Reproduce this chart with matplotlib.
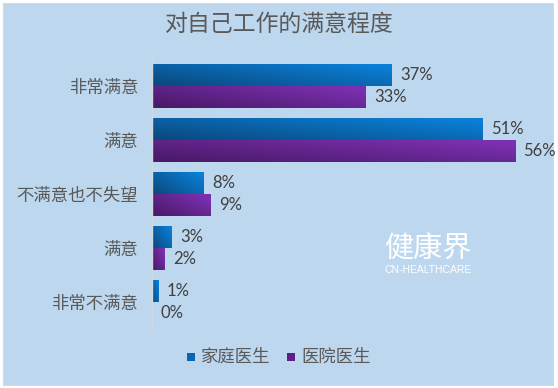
import numpy as np
import matplotlib
matplotlib.use("Agg")
import matplotlib.pyplot as plt
from matplotlib.patches import Rectangle
from matplotlib.colors import to_rgb

plt.rcParams['font.family'] = ['Noto Sans CJK SC', 'DejaVu Sans']

title = "对自己工作的满意程度"
categories = ["非常满意", "满意", "不满意也不失望", "满意", "非常不满意"]
series_names = ["家庭医生", "医院医生"]
family_doctor = [37, 51, 8, 3, 1]
hospital_doctor = [33, 56, 9, 2, 0]

blue_dark, blue_light = "#0a4a80", "#0a7fd6"
purple_dark, purple_light = "#4a1a68", "#7c30b2"
bg = "#BDD7EE"

fig = plt.figure(figsize=(5.58, 3.88), dpi=100)
fig.patch.set_facecolor("white")
fig.patches.append(Rectangle((3 / 558, 3 / 388), 550 / 558, 382 / 388,
                             transform=fig.transFigure, facecolor=bg,
                             edgecolor="#d9d9d9", lw=0.8, zorder=-5))

ax = fig.add_axes([152 / 558, 1 - 329 / 388, (541 - 152) / 558, (329 - 59) / 388])
ax.set_facecolor("none")
ax.set_zorder(2)

y = np.arange(len(categories))
h = 0.41
b1 = ax.barh(y - h / 2, family_doctor, height=h, color="none", zorder=2)
b2 = ax.barh(y + h / 2, hospital_doctor, height=h, color="none", zorder=2)

def gradient_fill(bars, dark, light):
    d = np.array(to_rgb(dark))
    l = np.array(to_rgb(light))
    for bar in bars:
        x0, y0 = bar.get_x(), bar.get_y()
        w, hh = bar.get_width(), bar.get_height()
        if w <= 0:
            continue
        n, m = 40, 200
        u = np.linspace(0, 1, m)[None, :]
        r = np.linspace(0, 1, n)[:, None]
        t = np.clip(0.65 * u + 0.5 * (1 - r) - 0.05, 0, 1)
        img = d[None, None, :] + t[..., None] * (l - d)[None, None, :]
        im = ax.imshow(img, extent=(x0, x0 + w, y0 + hh, y0), origin="upper",
                       aspect="auto", zorder=2, interpolation="bilinear")
        im.set_clip_path(bar)

gradient_fill(b1, blue_dark, blue_light)
gradient_fill(b2, purple_dark, purple_light)

ax.set_xlim(0, 60)
ax.set_ylim(len(categories) - 0.5, -0.5)

for bars, vals in ((b1, family_doctor), (b2, hospital_doctor)):
    for bar, v in zip(bars, vals):
        ax.text(bar.get_width() + 1.3, bar.get_y() + bar.get_height() / 2, f"{v}%",
                va="center", ha="left", fontsize=12, color="#404040",
                family=["Lato", "DejaVu Sans"])

ax.set_yticks(y)
ax.set_yticklabels(categories, fontsize=12.5, color="#595959")
ax.tick_params(axis="y", length=0, pad=10)
ax.set_xticks([])
for s in ("top", "right", "bottom"):
    ax.spines[s].set_visible(False)
ax.spines["left"].set_color("#d0d8e0")
ax.spines["left"].set_linewidth(1)

fig.text(0.5, 1 - 24 / 388, title, ha="center", va="center", fontsize=16.5, color="#595959")

# legend
ly = 1 - 357 / 388
items = [(series_names[0], "#0a66b0", 187), (series_names[1], "#5e2088", 287)]
for name, c, px in items:
    fig.patches.append(Rectangle((px / 558, ly - 4 / 388), 8 / 558, 8 / 388, transform=fig.transFigure,
                                 facecolor=c, edgecolor="none", zorder=3))
    fig.text((px + 14) / 558, ly, name, ha="left", va="center", fontsize=12.5, color="#595959")

# watermark
fig.text(428 / 558, 1 - 250 / 388, "健康界", ha="center", va="center", fontsize=21,
         color="white")
fig.text(428 / 558, 1 - 270 / 388, "CN-HEALTHCARE", ha="center", va="center", fontsize=7.5,
         color="white", family=["Liberation Sans", "DejaVu Sans"])

fig.savefig("out.png", dpi=100, facecolor=fig.get_facecolor())
